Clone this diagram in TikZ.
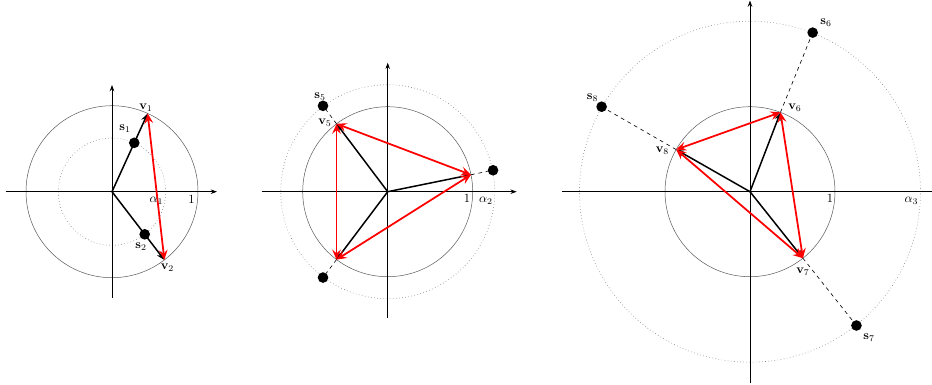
\documentclass[tikz,border=0pt]{standalone}
\usetikzlibrary{arrows.meta}
\begin{document}
\begin{tikzpicture}[x=0.8pt,y=0.8pt,
  axis/.style={-{Stealth[length=5pt,width=3.6pt]},line width=0.6pt},
  unitc/.style={gray!70!black,line width=0.4pt},
  dotc/.style={gray,dotted,line width=0.5pt},
  vec/.style={-{Stealth[length=6.5pt,width=5pt]},line width=1.2pt},
  redvec/.style={{Stealth[length=8pt,width=7pt,inset=3pt]}-{Stealth[length=8pt,width=7pt,inset=3pt]},red,line width=1.4pt},
  proj/.style={dashed,line width=0.5pt},
  dotpt/.style={circle,fill=black,inner sep=0pt,minimum size=8.5pt},
  lab/.style={inner sep=0pt}
]
\useasboundingbox (0,0) rectangle (932,385);

% ---------------- left diagram ----------------
\begin{scope}[shift={(112,193.3)}]
  \coordinate (O1) at (0,0);
  \coordinate (xl1) at (-106.3,0); \coordinate (xr1) at (105,0);
  \coordinate (yb1) at (0,-106); \coordinate (yt1) at (0,106.7);
  \draw[unitc] (O1) circle (86);
  \draw[dotc] (O1) circle (53.7);
  \draw[axis] (xl1) -- (xr1);
  \draw[axis] (yb1) -- (yt1);
  \coordinate (v1) at (65.5:86);
  \coordinate (v2) at (-52.5:86);
  \draw[vec] (O1) -- (v1);
  \draw[vec] (O1) -- (v2);
  \draw[redvec] (v1) -- (v2);
  \node[dotpt] (s1) at (65.5:53.7) {};
  \node[dotpt] (s2) at (-52.5:53.7) {};
\end{scope}
\node[lab] (lv1) at (146,277.5) {$\mathbf{v}_1$};
\node[lab] (ls1) at (125,256.5) {$\mathbf{s}_1$};
\node[lab] (ls2) at (141,138.3) {$\mathbf{s}_2$};
\node[lab] (lv2) at (167.5,117.5) {$\mathbf{v}_2$};
\node[lab] (la1) at (156.5,184) {$\alpha_1$};
\node[lab] (lo1) at (191.5,186) {$1$};

% ---------------- middle diagram ----------------
\begin{scope}[shift={(387.7,193.3)}]
  \coordinate (O2) at (0,0);
  \coordinate (xl2) at (-126,0); \coordinate (xr2) at (129,0);
  \coordinate (yb2) at (0,-126.3); \coordinate (yt2) at (0,129);
  \draw[unitc] (O2) circle (85);
  \draw[dotc] (O2) circle (107);
  \draw[axis] (xl2) -- (xr2);
  \draw[axis] (yb2) -- (yt2);
  \coordinate (v4) at (11.5:85);
  \coordinate (v5) at (127:85);
  \coordinate (v6m) at (-127:85);
  \node[dotpt] (s4) at (11.5:107.5) {};
  \node[dotpt] (s5) at (127:107.5) {};
  \node[dotpt] (s6m) at (-127:107.5) {};
  \draw[proj] (v4) -- (s4);
  \draw[proj] (v5) -- (s5);
  \draw[proj] (v6m) -- (s6m);
  \draw[vec] (O2) -- (v4);
  \draw[vec] (O2) -- (v5);
  \draw[vec] (O2) -- (v6m);
  \draw[redvec] (v4) -- (v5);
  \draw[redvec] (v5) -- (v6m);
  \draw[redvec] (v6m) -- (v4);
\end{scope}
\node[lab] (ls5) at (320,288) {$\mathbf{s}_5$};
\node[lab] (lv5) at (325,262) {$\mathbf{v}_5$};
\node[lab] (lo2) at (467,187) {$1$};
\node[lab] (la2) at (486,184) {$\alpha_2$};

% ---------------- right diagram ----------------
\begin{scope}[shift={(750,193.3)}]
  \coordinate (O3) at (0,0);
  \coordinate (xl3) at (-188,0); \coordinate (xr3) at (182,0);
  \coordinate (yb3) at (0,-191.3); \coordinate (yt3) at (0,191.2);
  \draw[unitc] (O3) circle (85);
  \draw[dotc] (O3) circle (170.5);
  \draw[line width=0.6pt] (xl3) -- (xr3);
  \draw[axis] (yb3) -- (yt3);
  \coordinate (v6) at (69:85);
  \coordinate (v7) at (-51.5:85);
  \coordinate (v8) at (150.3:85);
  \node[dotpt] (s6) at (68.5:171) {};
  \node[dotpt] (s7) at (-51.5:171) {};
  \node[dotpt] (s8) at (150.2:171) {};
  \draw[proj] (v6) -- (s6);
  \draw[proj] (v7) -- (s7);
  \draw[proj] (v8) -- (s8);
  \draw[vec] (O3) -- (v6);
  \draw[vec] (O3) -- (v7);
  \draw[vec] (O3) -- (v8);
  \draw[redvec] (v6) -- (v7);
  \draw[redvec] (v7) -- (v8);
  \draw[redvec] (v8) -- (v6);
\end{scope}
\node[lab] (lv6) at (795,277) {$\mathbf{v}_6$};
\node[lab] (lv8) at (662.5,234) {$\mathbf{v}_8$};
\node[lab] (lv7) at (803,113.3) {$\mathbf{v}_7$};
\node[lab] (ls6) at (826,362.5) {$\mathbf{s}_6$};
\node[lab] (ls7) at (869,47.5) {$\mathbf{s}_7$};
\node[lab] (ls8) at (592.5,287.5) {$\mathbf{s}_8$};
\node[lab] (lo3) at (830,187) {$1$};
\node[lab] (la3) at (911.5,184) {$\alpha_3$};
\end{tikzpicture}
\end{document}
